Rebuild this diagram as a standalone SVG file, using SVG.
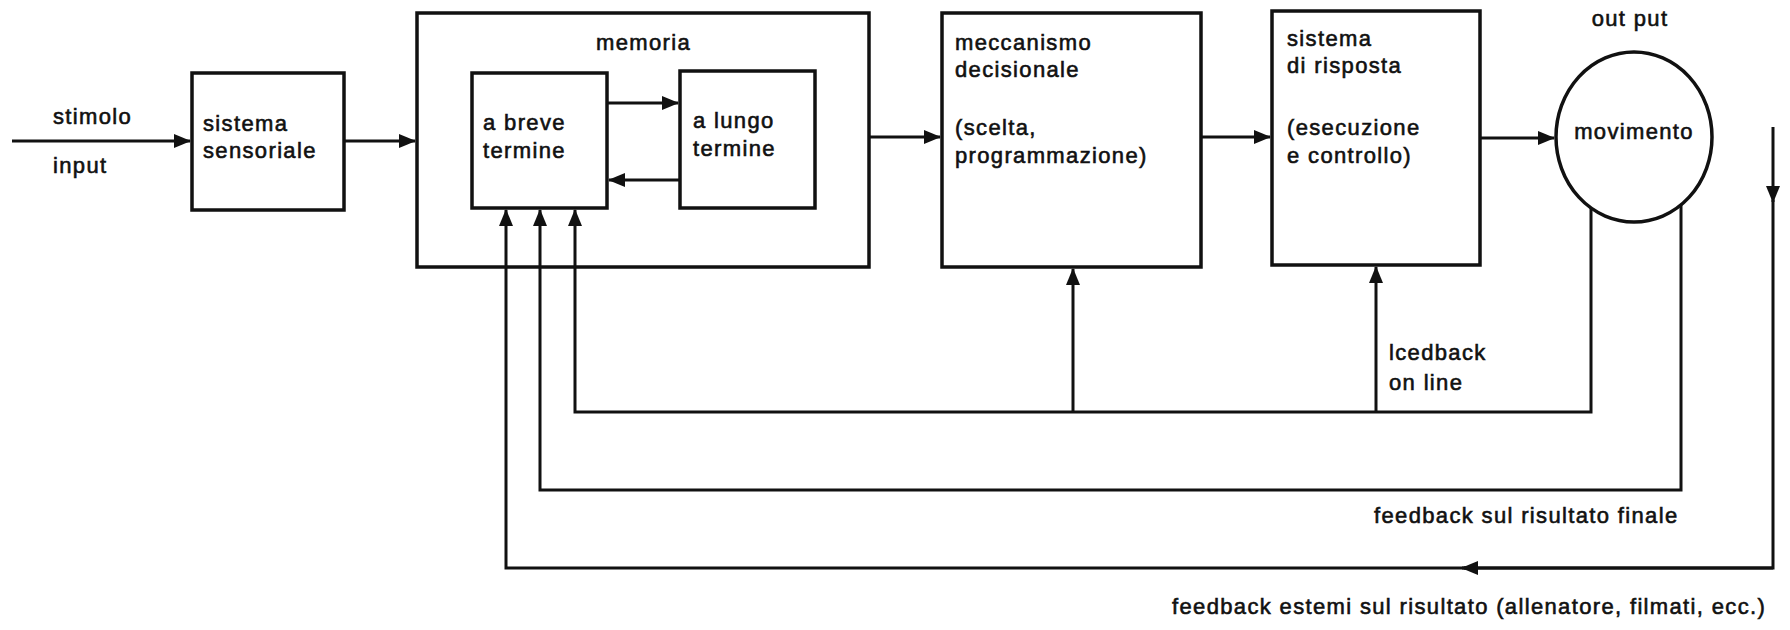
<svg xmlns="http://www.w3.org/2000/svg" width="1790" height="630" viewBox="0 0 1790 630">
<style>
.box{fill:none;stroke:#111;stroke-width:3.5}
.ln{fill:none;stroke:#111;stroke-width:3}
.t{font-family:"Liberation Sans",Arial,sans-serif;font-size:22px;letter-spacing:1.35px;fill:#111;stroke:#111;stroke-width:0.6}
.c{text-anchor:middle}
</style>
<defs>
<marker id="ah" markerUnits="userSpaceOnUse" markerWidth="17" markerHeight="14" refX="16" refY="7" orient="auto">
<path d="M0,0 L17,7 L0,14 z" fill="#111"/>
</marker>
</defs>
<rect width="1790" height="630" fill="#fff"/>
<g id="connectors">
<path class="ln" d="M12,141 H190" marker-end="url(#ah)"/>
<path class="ln" d="M344,141 H415" marker-end="url(#ah)"/>
<path class="ln" d="M607,103 H678" marker-end="url(#ah)"/>
<path class="ln" d="M680,180 H609" marker-end="url(#ah)"/>
<path class="ln" d="M869,137 H940" marker-end="url(#ah)"/>
<path class="ln" d="M1201,137 H1270" marker-end="url(#ah)"/>
<path class="ln" d="M1480,138 H1554" marker-end="url(#ah)"/>
<path class="ln" d="M1591,208 V412 H575 V210" marker-end="url(#ah)"/>
<path class="ln" d="M1073,412 V269" marker-end="url(#ah)"/>
<path class="ln" d="M1376,412 V267" marker-end="url(#ah)"/>
<path class="ln" d="M1681,205 V490 H540 V210" marker-end="url(#ah)"/>
<path class="ln" d="M1773,127 V202" marker-end="url(#ah)"/>
<path class="ln" d="M1773,200 V568 H1464"/>
<path class="ln" d="M1773,568 H1462" marker-end="url(#ah)"/>
<path class="ln" d="M1466,568 H506 V210" marker-end="url(#ah)"/>
</g>
<g id="input-labels">
<text class="t" x="53" y="124">stimolo</text>
<text class="t" x="53" y="173">input</text>
</g>
<g id="sensoriale">
<rect class="box" x="192" y="73" width="152" height="137"/>
<text class="t" x="203" y="131">sistema</text>
<text class="t" x="203" y="158">sensoriale</text>
</g>
<g id="memoria">
<rect class="box" x="417" y="13" width="452" height="254"/>
<text class="t" x="596" y="50">memoria</text>
</g>
<g id="breve">
<rect class="box" x="472" y="73" width="135" height="135"/>
<text class="t" x="483" y="130">a breve</text>
<text class="t" x="483" y="158">termine</text>
</g>
<g id="lungo">
<rect class="box" x="680" y="71" width="135" height="137"/>
<text class="t" x="693" y="128">a lungo</text>
<text class="t" x="693" y="156">termine</text>
</g>
<g id="meccanismo">
<rect class="box" x="942" y="13" width="259" height="254"/>
<text class="t" x="955" y="50">meccanismo</text>
<text class="t" x="955" y="77">decisionale</text>
<text class="t" x="955" y="135">(scelta,</text>
<text class="t" x="955" y="163">programmazione)</text>
</g>
<g id="risposta">
<rect class="box" x="1272" y="11" width="208" height="254"/>
<text class="t" x="1287" y="46">sistema</text>
<text class="t" x="1287" y="73">di risposta</text>
<text class="t" x="1287" y="135">(esecuzione</text>
<text class="t" x="1287" y="163">e controllo)</text>
</g>
<g id="movimento">
<ellipse class="box" cx="1634" cy="137" rx="78" ry="85"/>
<text class="t c" x="1634" y="139">movimento</text>
<text class="t c" x="1630" y="26">out put</text>
</g>
<g id="feedback-labels">
<text class="t" x="1389" y="360">lcedback</text>
<text class="t" x="1389" y="390">on line</text>
<text class="t" x="1374" y="523">feedback sul risultato finale</text>
<text class="t" x="1172" y="614">feedback estemi sul risultato (allenatore, filmati, ecc.)</text>
</g>
</svg>
